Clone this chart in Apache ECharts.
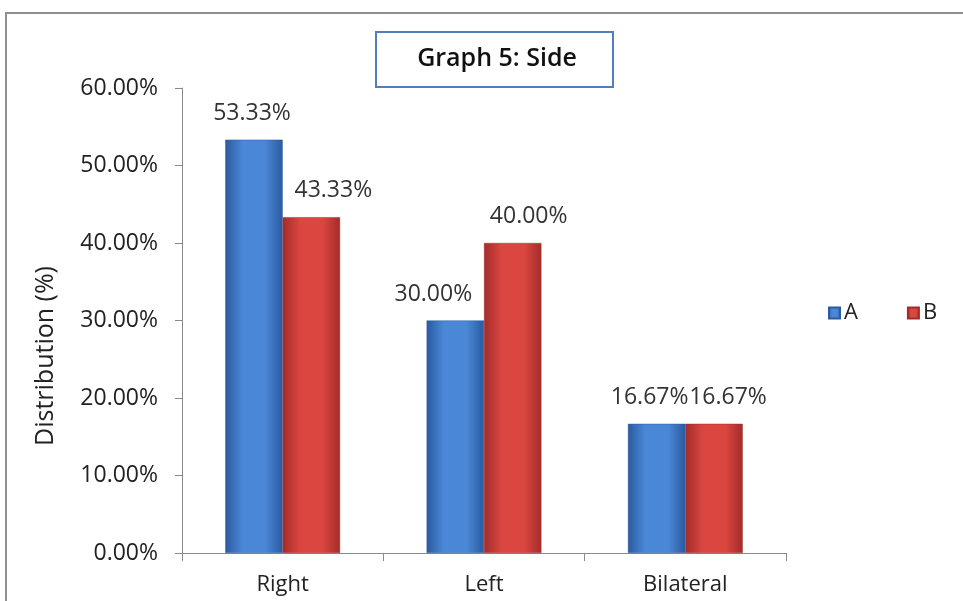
<!DOCTYPE html>
<html>
<head>
<meta charset="utf-8">
<script src="https://cdn.jsdelivr.net/npm/echarts@6/dist/echarts.min.js"></script>
<style>
  html, body { margin: 0; padding: 0; background: #fff; }
  #chart { width: 963px; height: 601px; }
</style>
</head>
<body>
<div id="chart"></div>
<script>
// Side distribution per group
const categories = ['Right', 'Left', 'Bilateral'];
const seriesA = [53.33, 30.00, 16.67];
const seriesB = [43.33, 40.00, 16.67];
const yTicks = [0, 10, 20, 30, 40, 50, 60];

const FONT = '"Open Sans", "Liberation Sans", sans-serif';

// per-bar label nudges (horizontal, vertical) in pixels
const nudgeA = [[-2, 0], [-22, 0], [-7, 0]];
const nudgeB = [[22, 0], [16, 0], [14, 0]];

function barGradient(edge, mid) {
  return new echarts.graphic.LinearGradient(0, 0, 1, 0, [
    { offset: 0, color: edge },
    { offset: 0.3, color: mid },
    { offset: 0.7, color: mid },
    { offset: 1, color: edge }
  ]);
}

function makeSeries(name, values, nudges, edge, mid) {
  return {
    name: name,
    type: 'bar',
    barGap: '0%',
    barCategoryGap: '43%',
    itemStyle: { color: barGradient(edge, mid), borderColor: edge, borderWidth: 0.5 },
    label: {
      show: true,
      position: 'top',
      distance: 15,
      fontFamily: FONT,
      fontSize: 23,
      color: '#333',
      formatter: p => p.value.toFixed(2) + '%'
    },
    data: values.map((v, i) => ({
      value: v,
      label: { offset: nudges[i] }
    }))
  };
}

const chart = echarts.init(document.getElementById('chart'));
chart.setOption({
  animation: false,
  backgroundColor: '#fff',
  textStyle: { fontFamily: FONT },
  grid: { left: 182, right: 177, top: 88, bottom: 48 },
  graphic: [
    {
      type: 'rect', silent: true,
      shape: { x: 6, y: 13, width: 1000, height: 700 },
      style: { fill: 'none', stroke: '#8f8f8f', lineWidth: 2 }
    },
    {
      type: 'rect', silent: true,
      shape: { x: 376, y: 32, width: 237, height: 55 },
      style: { fill: '#fff', stroke: '#4f7fc0', lineWidth: 2 }
    },
    {
      type: 'text', silent: true,
      x: 497, y: 59,
      style: {
        text: 'Graph 5: Side', fontFamily: FONT, fontSize: 25, fontWeight: 600,
        fill: '#111', align: 'center', verticalAlign: 'middle'
      }
    },
    {
      type: 'text', silent: true,
      x: 46, y: 356, rotation: Math.PI / 2,
      style: {
        text: 'Distribution (%)', fontFamily: FONT, fontSize: 25,
        fill: '#222', align: 'center', verticalAlign: 'middle'
      }
    }
  ],
  legend: {
    left: 828, top: 302, padding: 0,
    itemWidth: 11, itemHeight: 11, itemGap: 49,
    icon: 'rect',
    textStyle: { fontFamily: FONT, fontSize: 22, color: '#222', padding: [0, 0, 0, -1] },
    data: ['A', 'B']
  },
  xAxis: {
    type: 'category',
    data: categories,
    axisLine: { lineStyle: { color: '#8a8a8a', width: 1 } },
    axisTick: { show: true, length: 8, lineStyle: { color: '#8a8a8a' } },
    axisLabel: { fontFamily: FONT, fontSize: 22, color: '#222', margin: 21 }
  },
  yAxis: {
    type: 'value',
    min: yTicks[0],
    max: yTicks[yTicks.length - 1],
    interval: yTicks[1] - yTicks[0],
    axisLine: { show: true, lineStyle: { color: '#8a8a8a', width: 1 } },
    axisTick: { show: true, length: 7, lineStyle: { color: '#8a8a8a' } },
    splitLine: { show: false },
    axisLabel: {
      fontFamily: FONT, fontSize: 23, color: '#222', margin: 24,
      formatter: v => v.toFixed(2) + '%'
    }
  },
  series: [
    makeSeries('A', seriesA, nudgeA, '#2b5aa0', '#4a87d6'),
    makeSeries('B', seriesB, nudgeB, '#a22c2a', '#db4640')
  ]
});
</script>
</body>
</html>
